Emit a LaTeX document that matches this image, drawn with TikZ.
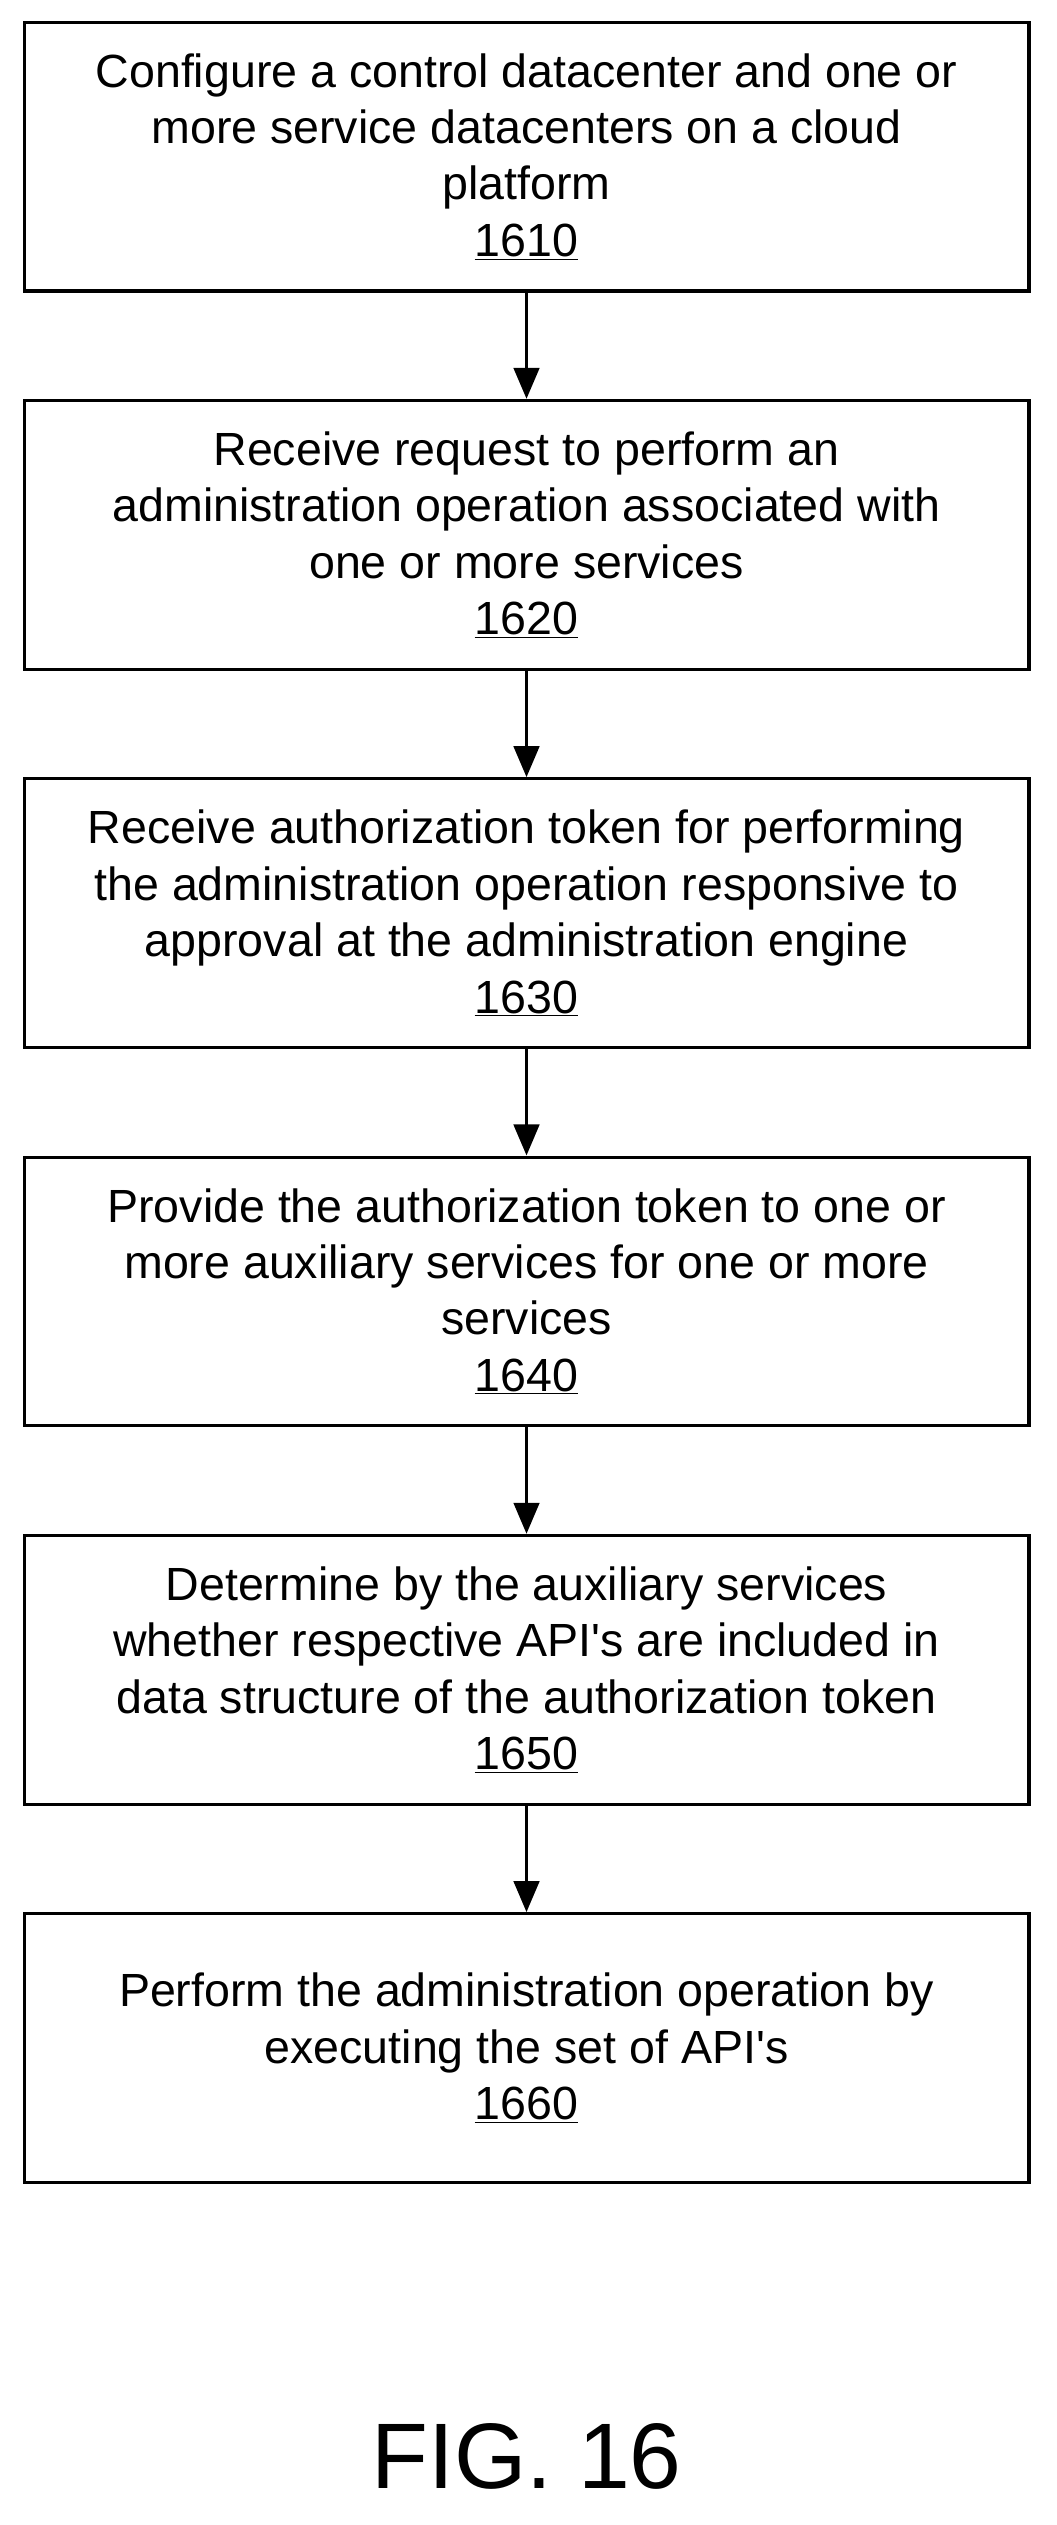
\documentclass[tikz,border=0pt]{standalone}
\usepackage{fontspec}
\setmainfont{Liberation Sans}
\usetikzlibrary{positioning,arrows.meta}
\tikzset{
  stepbox/.style={draw,line width=2.2pt,minimum width=25.04cm,minimum height=6.7cm,
    align=center,font=\fontsize{33}{40}\selectfont},
  flow/.style={line width=2.6pt,-{Triangle[length=22pt,width=18pt]}}
}
\begin{document}
\begin{tikzpicture}%
\useasboundingbox (0,0) rectangle (26.32,-62.92);%
\node[stepbox] (s1610) at (13.12,-3.9) {Configure a control datacenter and one or\\more service datacenters on a cloud\\platform\\\underline{1610}};%
\node[stepbox,below=2.65cm of s1610] (s1620) {Receive request to perform an\\administration operation associated with\\one or more services\\\underline{1620}};%
\node[stepbox,below=2.65cm of s1620] (s1630) {Receive authorization token for performing\\the administration operation responsive to\\approval at the administration engine\\\underline{1630}};%
\node[stepbox,below=2.65cm of s1630] (s1640) {Provide the authorization token to one or\\more auxiliary services for one or more\\services\\\underline{1640}};%
\node[stepbox,below=2.65cm of s1640] (s1650) {Determine by the auxiliary services\\whether respective API\textquotesingle s are included in\\data structure of the authorization token\\\underline{1650}};%
\node[stepbox,below=2.65cm of s1650] (s1660) {Perform the administration operation by\\executing the set of API\textquotesingle s\\\underline{1660}};%
%
\foreach \a/\b in {s1610/s1620,s1620/s1630,s1630/s1640,s1640/s1650,s1650/s1660}
  \draw[flow] (\a) -- (\b);%
%
\node[font=\fontsize{66}{70}\selectfont] (fig) at (13.12,-61.2) {FIG. 16};%
\end{tikzpicture}
\end{document}
